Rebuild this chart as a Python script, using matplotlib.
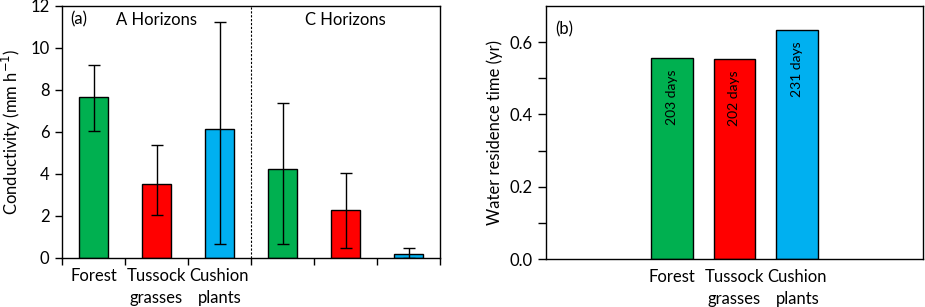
import matplotlib
matplotlib.use("Agg")
import matplotlib.pyplot as plt
import numpy as np

plt.rcParams['font.family'] = ['Lato', 'DejaVu Sans']

# Panel (a) data
cond_labels = ["Forest\n", "Tussock\ngrasses", "Cushion\nplants"]
a_values = [7.65, 3.52, 6.13]
a_low = [6.03, 2.07, 0.65]
a_high = [9.17, 5.36, 11.22]
c_values = [4.22, 2.27, 0.17]
c_low = [0.68, 0.46, 0.0]
c_high = [7.40, 4.03, 0.46]

# Panel (b) data
wrt_labels = ["Forest\n", "Tussock\ngrasses", "Cushion\nplants"]
wrt_values = [0.556, 0.553, 0.633]
wrt_days = ["203 days", "202 days", "231 days"]

colors = ["#00B050", "#FF0000", "#00B0F0"]

fig = plt.figure(figsize=(9.25, 3.07), dpi=100)
axa = fig.add_axes([62/925, 49/307, 378/925, 252/307])
axb = fig.add_axes([546/925, 48/307, 377/925, 253/307])

FS = 12

# ---- Panel (a)
vals = a_values + c_values
lows = a_low + c_low
highs = a_high + c_high
xs = np.arange(6) + 0.5
errs = [np.array(vals) - np.array(lows), np.array(highs) - np.array(vals)]
axa.bar(xs, vals, width=0.46, color=colors * 2, edgecolor='black', linewidth=1.0, zorder=2)
axa.errorbar(xs, vals, yerr=errs, fmt='none', ecolor='black', elinewidth=1.0,
             capsize=4, capthick=1.0, zorder=3)
axa.set_xlim(0, 6)
axa.set_ylim(0, 12)
axa.set_yticks(np.arange(0, 13, 2))
axa.set_xticks(np.arange(0, 7))
axa.set_xticklabels([])
axa.set_xticks([0.5, 1.5, 2.5], minor=True)
axa.set_xticklabels(cond_labels, minor=True, fontsize=FS, linespacing=1.45)
axa.tick_params(axis='x', which='minor', length=0, pad=7)
axa.tick_params(axis='x', which='major', direction='out', length=5, width=1)
axa.tick_params(axis='y', direction='out', length=5, width=1, labelsize=FS, pad=4)
axa.axvline(3, color='black', linestyle=(0, (2, 1.5)), linewidth=0.8, zorder=1)
axa.set_ylabel("Conductivity (mm h$^{-1}$)", fontsize=FS, labelpad=5)
axa.text(0.13, 11.35, "(a)", fontsize=FS, ha='left', va='center')
axa.text(1.5, 11.35, "A Horizons", fontsize=FS, ha='center', va='center')
axa.text(4.5, 11.35, "C Horizons", fontsize=FS, ha='center', va='center')
for s in axa.spines.values():
    s.set_linewidth(1.0)

# ---- Panel (b)
xb = np.array([2.0, 3.0, 4.0])
axb.bar(xb, wrt_values, width=0.667, color=colors, edgecolor='black', linewidth=1.0, zorder=2)
for x, v, t in zip(xb, wrt_values, wrt_days):
    axb.annotate(t, xy=(x, v), xytext=(0, -8), textcoords='offset points',
                 rotation=90, ha='center', va='top', fontsize=10)
axb.set_xlim(0, 6)
axb.set_ylim(0, 0.7)
axb.set_yticks([0.0, 0.2, 0.4, 0.6])
axb.set_yticklabels(["0.0", "0.2", "0.4", "0.6"])
axb.set_yticks([0.1, 0.3, 0.5], minor=True)
axb.set_xticks(xb)
axb.set_xticklabels(wrt_labels, fontsize=FS, linespacing=1.45)
axb.tick_params(axis='x', length=0, pad=7)
axb.tick_params(axis='y', which='both', direction='out', length=5.5, width=1, labelsize=FS, pad=4)
axb.set_ylabel("Water residence time (yr)", fontsize=FS, labelpad=5)
axb.text(0.15, 0.635, "(b)", fontsize=FS, ha='left', va='center')
for s in axb.spines.values():
    s.set_linewidth(1.0)

fig.savefig("out.png", dpi=100)
